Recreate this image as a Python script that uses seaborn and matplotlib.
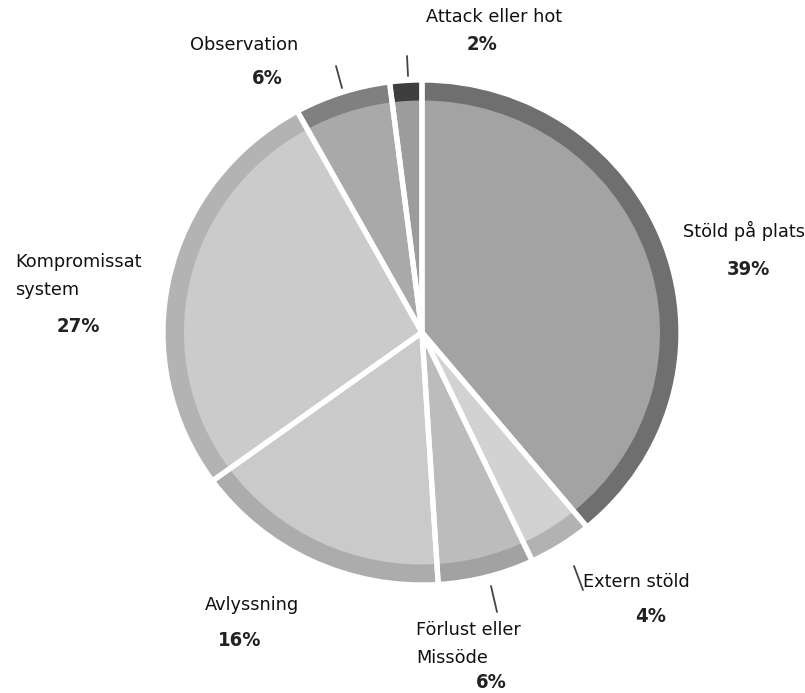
import matplotlib
matplotlib.use("Agg")
import matplotlib.pyplot as plt
import seaborn as sns

sns.set_theme(style="white")
plt.rcParams['font.family'] = ['DejaVu Sans']

categories = ["Stöld på plats", "Extern stöld", "Förlust eller\nMissöde", "Avlyssning",
              "Kompromissat\nsystem", "Observation", "Attack eller hot"]
values = [39, 4, 6, 16, 27, 6, 2]
pct_labels = ["39%", "4%", "6%", "16%", "27%", "6%", "2%"]

inner_colors = ["#a3a3a3", "#d2d2d2", "#bcbcbc", "#cacaca", "#cbcbcb", "#a9a9a9", "#9c9c9c"]
ring_colors = ["#6f6f6f", "#b2b2b2", "#a2a2a2", "#acacac", "#b3b3b3", "#808080", "#3e3e3e"]

W, H = 805, 693
fig = plt.figure(figsize=(W / 100, H / 100), dpi=100)
ax = fig.add_axes([0, 0, 1, 1])

# slight vertical squash as in the reference (259 px wide radius, 252.5 px tall)
s = 252.5 / 259.0
cx, cy = 422, (H - 332.5) / s
R = 259
ring_w = 21

ax.pie(values, colors=ring_colors, radius=R, center=(cx, cy), startangle=90,
       counterclock=False, wedgeprops=dict(linewidth=0), frame=True)
ax.pie(values, colors=inner_colors, radius=R - ring_w, center=(cx, cy), startangle=90,
       counterclock=False, wedgeprops=dict(linewidth=0), frame=True)
ax.pie(values, colors=["none"] * len(values), radius=R, center=(cx, cy), startangle=90,
       counterclock=False, wedgeprops=dict(edgecolor="white", linewidth=3.8, facecolor="none"),
       frame=True)
ax.set_aspect("auto")
ax.set_xlim(0, W)
ax.set_ylim(0, H / s)
ax.axis("off")


def Y(y):
    return (H - y) / s


name_pos = [(683, 231), (583, 582), (416, 644), (205, 605),
            (15, 276), (190, 45), (426, 17)]
pct_pos = [(748, 270), (651, 617), (491, 683), (240, 641), (78, 326), (267, 78), (482, 45)]

for name, (x, y), pct, (px, py) in zip(categories, name_pos, pct_labels, pct_pos):
    ax.text(x, Y(y), name, fontsize=12.8, ha="left", va="center", color="#111111",
            linespacing=1.7)
    ax.text(px, Y(py), pct, fontsize=14.5, ha="center", va="center", color="#222222",
            family="DejaVu Sans", fontstretch="condensed", fontweight="bold")

leaders = [((336, 66), (342, 88)), ((407, 56), (408, 76)),
           ((574, 566), (583, 590)), ((491, 586), (497, 612))]
for (x0, y0), (x1, y1) in leaders:
    ax.plot([x0, x1], [Y(y0), Y(y1)], color="#444444", lw=1.3)

fig.savefig("out.png", dpi=100)
